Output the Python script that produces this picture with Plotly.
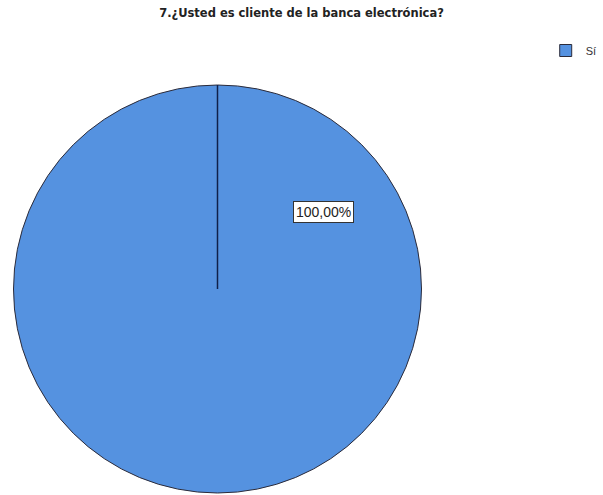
import plotly.graph_objects as go

# Survey answer shares
categories = ["Sí"]
percentages = [100.0]

W, H = 603, 495
slice_color = "#5592e0"
edge_color = "#2b2b3a"

# Pie placement in paper coordinates
dom_x = [10 / W, 425 / W]
dom_y = [1 - 493 / H, 1 - 85 / H]

fig = go.Figure(
    go.Pie(
        labels=categories,
        values=percentages,
        sort=False,
        direction="clockwise",
        rotation=0,
        marker=dict(colors=[slice_color], line=dict(color=edge_color, width=1)),
        textinfo="none",
        hoverinfo="label+percent",
        domain=dict(x=dom_x, y=dom_y),
        showlegend=True,
    )
)

# Radial edge of the single slice, from centre to the top of the circle
cx = (dom_x[0] + dom_x[1]) / 2
cy = (dom_y[0] + dom_y[1]) / 2
radius_px = min((dom_x[1] - dom_x[0]) * W, (dom_y[1] - dom_y[0]) * H) / 2
fig.add_shape(
    type="line", xref="paper", yref="paper",
    x0=cx, x1=cx, y0=cy, y1=cy + radius_px / H,
    line=dict(color="#10204a", width=1.5),
)

# Percentage label
label = f"{percentages[0]:.2f}".replace(".", ",") + "%"
fig.add_annotation(
    x=323 / W, y=1 - 212 / H, xref="paper", yref="paper",
    text=label, showarrow=False,
    font=dict(family="Arial, Liberation Sans", size=14, color="#222"),
    bgcolor="white", bordercolor="#333", borderwidth=1, borderpad=2,
)

fig.update_layout(
    width=W, height=H,
    margin=dict(l=0, r=0, t=0, b=0),
    paper_bgcolor="white",
    plot_bgcolor="white",
    title=dict(
        text="<b>7.¿Usted es cliente de la banca electrónica?</b>",
        x=0.5, xanchor="center", y=1 - 13 / H, yanchor="middle",
        font=dict(family="DejaVu Sans", size=11.5, color="#222"),
    ),
    legend=dict(
        x=0.905, y=1 - 36 / H, xanchor="left", yanchor="top",
        font=dict(family="Arial, Liberation Sans", size=11, color="#333"),
        bgcolor="rgba(0,0,0,0)", itemwidth=30,
    ),
)

fig.write_html("out.html")
